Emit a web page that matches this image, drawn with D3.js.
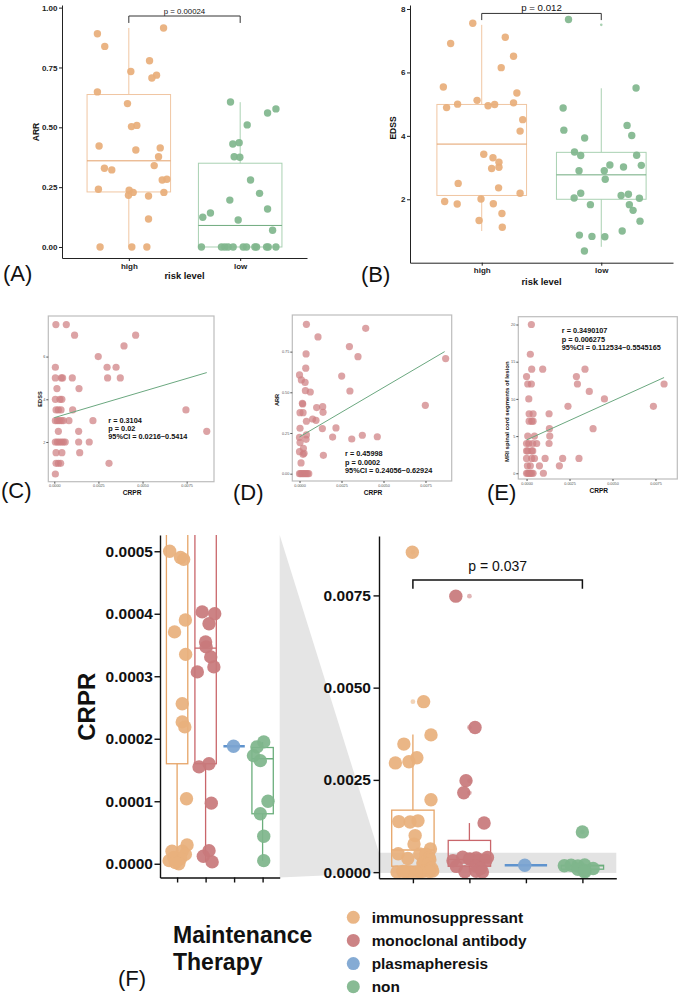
<!DOCTYPE html>
<html>
<head>
<meta charset="utf-8">
<script src="https://cdn.jsdelivr.net/npm/d3@7"></script>
<style>
  body { margin: 0; background: #fff; }
  svg { display: block; }
  text { font-family: "Liberation Sans", Arial, sans-serif; }
</style>
</head>
<body>
<svg id="fig" width="683" height="997"></svg>
<script>
// ---- data: panels A / B (value, jitter in category units) ----
const riskLevels = ["high", "low"];

const arrHigh = [[0.891,-0.282],[0.838,-0.216],[0.915,0.312],[0.778,0.186],[0.733,0.018],[0.718,0.249],[0.706,0.207],
  [0.648,-0.282],[0.599,-0.012],[0.503,0.024],[0.508,0.072],[0.422,-0.267],[0.405,0.063],[0.414,0.282],[0.377,0.267],
  [0.340,0.228],[0.329,-0.219],[0.322,-0.153],[0.280,0.300],[0.283,0.342],[0.241,-0.273],[0.237,0.003],[0.228,0.039],
  [0.216,-0.003],[0.213,0.177],[0.228,0.315],[0.117,0.177],[0,-0.258],[0,0.027],[0,0.162]];
const arrLow = [[0.606,-0.087],[0.577,0.321],[0.560,0.246],[0.510,0.063],[0.436,-0.009],[0.430,-0.066],[0.377,-0.054],
  [0.375,-0.003],[0.280,0.093],[0.224,0.174],[0.196,-0.093],[0.142,-0.267],[0.124,-0.336],[0.159,0.246],[0.113,-0.018],
  [0.070,0.291],[0,-0.348],[0,-0.168],[0,-0.138],[0,-0.108],[0,-0.063],[0,0.027],[0,0.057],[0,0.132],[0,0.147],
  [0,0.237],[0,0.252],[0,0.321]];
const arrHighBox = [0, 0.23, 0.36, 0.637, 0.915];   // lower whisker, q1, median, q3, upper whisker
const arrLowBox = [0, 0, 0.09, 0.35, 0.605];

const edssHigh = [[7.55,-0.075],[6.91,-0.26],[7.11,0.197],[6.51,0.266],[6.15,0.163],[5.54,-0.321],[5.35,0.294],
  [5.12,-0.039],[4.89,-0.294],[5.00,-0.202],[4.95,0.053],[4.99,0.108],[5.04,0.266],[4.51,0.343],[4.15,0.321],
  [3.42,0.017],[3.31,0.094],[3.17,0.144],[2.97,0.083],[3.01,0.144],[2.50,-0.197],[2.36,0.141],[2.19,0.321],
  [1.93,-0.31],[1.85,-0.205],[2.01,-0.006],[1.86,0.097],[1.55,0.169],[1.33,-0.022],[1.12,0.172]];
const edssLow = [[7.67,-0.274],[5.51,0.291],[4.88,-0.319],[4.18,-0.313],[3.93,-0.139],[4.33,0.216],[4.01,0.255],
  [3.49,-0.224],[3.38,-0.172],[3.39,0.296],[2.90,-0.186],[2.90,0.025],[3.08,0.072],[3.02,0.186],[3.07,0.335],
  [2.63,0.033],[2.19,-0.172],[2.04,-0.227],[1.83,-0.091],[2.12,0.166],[2.16,0.227],[1.83,0.235],[1.65,0.266],
  [2.03,0.319],[1.31,0.324],[1.00,0.175],[0.87,-0.183],[0.83,-0.078],[0.82,0.03],[0.37,-0.141]];
const edssHighBox = [1.0, 2.12, 3.74, 4.99, 7.5];
const edssLowBox = [0.5, 2.0, 2.77, 3.48, 5.5];
const edssLowOutliers = [7.5];

// ---- data: panels C / D / E (CRPR, outcome) ----
const crprTicks = [0, 0.0025, 0.005, 0.0075];
const edssVsCrpr = [[0.00009,7.5],[0.00068,7.5],[0.00115,7.0],[0.00461,7.0],[0.00395,6.5],[0.00249,6.0],[0.00006,5.5],
  [0.00299,5.5],[0.0035,5.5],[0.00006,5],[0.0004,5],[0.00047,5],[0.00102,5],[0.00302,5],[0.00374,5],[0.00015,4.5],
  [0.0014,4.5],[0.00006,4],[0.00032,4],[0.00043,4],[0.0001,3.5],[0.00023,3.5],[0.00038,3.5],[0.00104,3.5],
  [0.00746,3.5],[0.00006,3],[0.00017,3],[0.00028,3],[0.0004,3],[0.00051,3],[0.00083,3],[0.00219,3],[0.00023,2.5],
  [0.00138,2.5],[0.00864,2.5],[0.00006,2],[0.00017,2],[0.00028,2],[0.0004,2],[0.00051,2],[0.00062,2],[0.00138,2],
  [0.00198,2],[0.0001,1.5],[0.00043,1.5],[0.00144,1.5],[0.0001,1],[0.00023,1],[0.00036,1],[0.0031,1],[0.00006,0.5]];
const edssFit = [[0, 3.14], [0.00864, 5.25]];
const edssStats = ["r = 0.3104", "p = 0.02", "95%CI = 0.0216~0.5414"];

const arrVsCrpr = [[0.00041,0.918],[0.0011,0.840],[0.00394,0.893],[0.00297,0.781],[0.00348,0.719],[0.00039,0.736],
  [0.0087,0.707],[0.00037,0.648],[0,0.607],[0.00011,0.576],[0.00033,0.561],[0.00251,0.600],[0.00035,0.510],
  [0.00064,0.502],[0.003,0.508],[0.00017,0.432],[0.00019,0.428],[0.00003,0.375],[0.00021,0.375],[0.00102,0.406],
  [0.00138,0.412],[0.0014,0.377],[0.00078,0.336],[0.00098,0.328],[0.00041,0.322],[0.00749,0.420],[0.00003,0.279],
  [0.00136,0.277],[0.00217,0.281],[0.00197,0.225],[0.00311,0.213],[0.00374,0.236],[0.00463,0.227],[0.00041,0.238],
  [0.00039,0.211],[0,0.223],[0.00003,0.191],[0.00023,0.156],[0.00021,0.119],[0.00027,0.125],[0.00142,0.113],
  [0,0.135],[0.00009,0.066],[0,0],[0.00007,0],[0.00015,0],[0.00023,0],[0.00031,0],[0.00039,0],[0.00047,0],[0.00055,0]];
const arrFit = [[0, 0.226], [0.00864, 0.75]];
const arrStats = ["r = 0.45998", "p = 0.0002", "95%CI = 0.24056~0.62924"];

const mriVsCrpr = [[0.00028,20],[0.00022,16],[0.0003,14],[0.00094,14],[0.0034,14],[0,13],[0.0029,13],[0.00007,12],
  [0.00028,12],[0.00296,12],[0.0080,12],[0.00365,11],[0.00013,10],[0.00453,10],[0.00015,8],[0.00038,8],[0.00131,8],
  [0.00241,9],[0.00738,9],[0.00015,7],[0.0003,7],[0.00038,7],[0.00387,6],[0.00133,6],[0.00007,5],[0.00046,5],
  [0.00135,5],[0,4],[0.00013,4],[0.00036,4],[0.00059,4],[0.00131,4],[0,3],[0.00007,3],[0.0003,3],[0.00036,3],
  [0,2],[0.0003,2],[0.00046,2],[0.00108,2],[0.0021,2],[0.00305,2],[0.00005,1],[0.00022,1],[0.00075,1],[0.00191,1],
  [0,0],[0.00007,0],[0.00015,0],[0.00022,0],[0.0003,0],[0.00038,0],[0.00098,0]];
const mriFit = [[0, 4.48], [0.0080, 12.87]];
const mriStats = ["r = 0.3490107", "p = 0.006275", "95%CI = 0.112534~0.5545165"];

// ---- data: panel F (CRPR by maintenance therapy; value, jitter) ----
const therapies = ["immunosuppressant", "monoclonal antibody", "plasmapheresis", "non"];
const crprImmuno = [[0.00867,-0.01],[0.00462,0.19],[0.00372,0.32],[0.00347,-0.16],[0.00310,0.07],[0.00299,-0.07],
  [0.00296,-0.31],[0.00196,0.32],[0.00137,-0.25],[0.00136,-0.05],[0.00139,0.09],[0.00099,0.04],[0.00076,0.02],
  [0.00063,0.31],[0.00050,-0.26],[0.00049,0.12],[0.000487,0.23],[0.00039,0.29],[0.000371,-0.09],[0.000335,0.30],
  [0.000256,0.18],[0.000227,0.18],[0.000219,0.27],[0.000104,0.33],[0.00003,0.35],[0.00002,0.18],[0.000015,0.29],
  [0.00001,-0.12],[0.000008,0.12],[0.000005,-0.28],[0,0.06],[0.000002,-0.06],[0.00002,-0.18]];
const crprMono = [[0.00748,-0.24],[0.00392,0.10],[0.00248,-0.06],[0.00215,-0.10],[0.00133,0.26],[0.000403,-0.12],
  [0.0004,0.32],[0.000384,0.12],[0.000355,0.0],[0.000347,0.02],[0.000331,0.18],[0.000315,0.29],[0.000307,-0.29],
  [0.000155,-0.23],[0.00016,0.12],[0.000097,0.2],[0.000021,0.12],[0.000012,-0.08],[0.000003,0.23]];
const crprPlasma = [[0.000188,-0.02]];
const crprNon = [[0.00109,0.0],[0.000195,0.04],[0.000187,-0.2],[0.000173,-0.32],[0.000165,-0.08],[0.0001,0.19],
  [0.00008,-0.08],[0.000044,0.04],[0.000005,0.04]];
const crprBoxes = [
  [0, 0.00016, 0.0006, 0.00168, 0.00373],
  [0.000003, 0.00016, 0.000345, 0.00086, 0.00133],
  [0.000188, 0.000188, 0.000188, 0.000188, 0.000188],
  [0.000005, 0.00008, 0.000168, 0.000186, 0.000195]
];
const zoomTicks = [0, 0.0001, 0.0002, 0.0003, 0.0004, 0.0005];
const fullTicks = [0, 0.0025, 0.005, 0.0075];

const therapyColors = ["#E8B07D", "#C87A7C", "#7CA5D1", "#7FB68C"];
const therapyBoxColors = ["#E6A467", "#C9666B", "#5F93CE", "#6BAE7C"];

const svg = d3.select("#fig");
const FONT = '"Liberation Sans", Arial, sans-serif';

function styleAxis(sel, size, color, weight) {
  sel.attr("font-family", FONT).attr("font-size", size);
  sel.selectAll("text").attr("fill", color).attr("font-weight", weight || "bold");
  sel.selectAll("line").attr("stroke", color);
  sel.select(".domain").attr("stroke", color);
}

function addText(x, y, str, size, opts) {
  opts = opts || {};
  const t = svg.append("text").attr("x", x).attr("y", y).text(str)
    .attr("font-size", size)
    .attr("font-weight", opts.weight || "bold")
    .attr("text-anchor", opts.anchor || "start")
    .attr("fill", opts.fill || "#111");
  if (opts.family) t.attr("font-family", opts.family);
  if (opts.rotate) t.attr("transform", `rotate(-90,${x},${y})`).attr("dominant-baseline", "central");
  return t;
}

function drawBox(g, x, y, cx, b, hw, stroke, med, width) {
  const bg = g.append("g").attr("fill", "none").attr("stroke", stroke).attr("stroke-width", width);
  bg.append("line").attr("x1", x(cx)).attr("x2", x(cx)).attr("y1", y(b[0])).attr("y2", y(b[1]));
  bg.append("line").attr("x1", x(cx)).attr("x2", x(cx)).attr("y1", y(b[3])).attr("y2", y(b[4]));
  bg.append("rect").attr("x", x(cx - hw)).attr("width", x(cx + hw) - x(cx - hw))
    .attr("y", y(b[3])).attr("height", Math.max(0, y(b[1]) - y(b[3])));
  bg.append("line").attr("x1", x(cx - hw)).attr("x2", x(cx + hw))
    .attr("y1", y(b[2])).attr("y2", y(b[2])).attr("stroke", med);
}

// ---------- A / B ----------
function riskPanel(c) {
  const g = svg.append("g");
  const x = d3.scaleLinear().domain([0.4, 2.6]).range([c.left, c.right]);
  const y = d3.scaleLinear().domain(c.yDomain).range([c.bottom, c.top]);
  c.groups.forEach((grp, i) => {
    const cx = i + 1;
    drawBox(g, x, y, cx, grp.box, 0.375, grp.boxColor, grp.medColor, 1);
    (grp.outliers || []).forEach(v => g.append("circle").attr("cx", x(cx)).attr("cy", y(v))
      .attr("r", 1.3).attr("fill", grp.boxColor));
    g.append("g").selectAll("circle").data(grp.pts).join("circle")
      .attr("cx", d => x(cx + d[1])).attr("cy", d => y(d[0])).attr("r", 3.7)
      .attr("fill", grp.color).attr("fill-opacity", 0.92);
  });
  g.append("g").attr("transform", `translate(${c.left},0)`)
    .call(d3.axisLeft(y).tickValues(c.ticks).tickFormat(c.fmt).tickSize(3).tickSizeOuter(0).tickPadding(1.5))
    .call(s => styleAxis(s, 8, "#222"));
  g.append("g").attr("transform", `translate(0,${c.bottom})`)
    .call(d3.axisBottom(x).tickValues([1, 2]).tickFormat(d => riskLevels[d - 1]).tickSize(3).tickSizeOuter(0).tickPadding(2))
    .call(s => styleAxis(s, 8, "#222"));
  // significance bracket
  g.append("path").attr("fill", "none").attr("stroke", "#333").attr("stroke-width", 1)
    .attr("d", `M${x(1)},${y(c.bracket[1])}V${y(c.bracket[0])}H${x(2)}V${y(c.bracket[1])}`);
  addText((x(1) + x(2)) / 2, y(c.bracket[0]) - 2.5, c.pText, c.pSize, { anchor: "middle", weight: "normal", fill: "#111" });
  addText(c.yLab[0], c.yLab[1], c.yLabel, 8.5, { anchor: "middle", rotate: true });
  addText((c.left + c.right) / 2, c.xLabY, "risk level", 9.4, { anchor: "middle" });
}

riskPanel({
  left: 62, right: 307, top: 5, bottom: 258,
  yDomain: [-0.046, 1.011], ticks: [0, 0.25, 0.5, 0.75, 1], fmt: d3.format(".2f"),
  groups: [
    { pts: arrHigh, box: arrHighBox, color: "#E8AE79", boxColor: "#F0C6A2", medColor: "#E39F68" },
    { pts: arrLow, box: arrLowBox, color: "#80B68D", boxColor: "#A9D1B2", medColor: "#6FAA7E" }
  ],
  bracket: [0.965, 0.936], pText: "p = 0.00024", pSize: 7.8,
  yLab: [36, 132], yLabel: "ARR", xLabY: 279
});

riskPanel({
  left: 410, right: 673, top: 5, bottom: 262.7,
  yDomain: [0, 8.126], ticks: [2, 4, 6, 8], fmt: d3.format("d"),
  groups: [
    { pts: edssHigh, box: edssHighBox, color: "#E8AE79", boxColor: "#F0C6A2", medColor: "#E39F68" },
    { pts: edssLow, box: edssLowBox, outliers: edssLowOutliers, color: "#80B68D", boxColor: "#A9D1B2", medColor: "#6FAA7E" }
  ],
  bracket: [7.86, 7.65], pText: "p = 0.012", pSize: 9.7,
  yLab: [393, 128], yLabel: "EDSS", xLabY: 285
});

// ---------- C / D / E ----------
function scatterPanel(c) {
  const g = svg.append("g");
  const x = d3.scaleLinear().domain(c.xDomain).range([c.left, c.right]);
  const y = d3.scaleLinear().domain(c.yDomain).range([c.bottom, c.top]);
  g.append("rect").attr("x", c.left).attr("y", c.top).attr("width", c.right - c.left).attr("height", c.bottom - c.top)
    .attr("fill", "#fff").attr("stroke", "#BDBDBD").attr("stroke-width", 1.2);
  g.append("g").selectAll("circle").data(c.pts).join("circle")
    .attr("cx", d => x(d[0])).attr("cy", d => y(d[1])).attr("r", 3.6)
    .attr("fill", "#CF7F82").attr("fill-opacity", 0.72);
  g.append("path").datum(c.fit).attr("fill", "none").attr("stroke", "#6BA880").attr("stroke-width", 1)
    .attr("d", d3.line().x(d => x(d[0])).y(d => y(d[1])));
  g.append("g").attr("transform", `translate(${c.left},0)`)
    .call(d3.axisLeft(y).tickValues(c.yTicks).tickFormat(c.yFmt).tickSize(2).tickPadding(1))
    .call(s => { styleAxis(s, 3.8, "#555", "normal"); s.select(".domain").remove(); });
  g.append("g").attr("transform", `translate(0,${c.bottom})`)
    .call(d3.axisBottom(x).tickValues(crprTicks).tickFormat(d3.format(".4f")).tickSize(2).tickPadding(1))
    .call(s => { styleAxis(s, 3.8, "#555", "normal"); s.select(".domain").remove(); });
  c.stats.forEach((s, i) => addText(x(c.statsAt[0]), y(c.statsAt[1]) + i * 8.3, s, 7.3));
  addText(c.yLab[0], c.yLab[1], c.yLabel, c.yLabSize, { anchor: "middle", rotate: true });
  addText((c.left + c.right) / 2 + 1, c.bottom + 13.5, "CRPR", 6.6, { anchor: "middle" });
}

scatterPanel({
  left: 48.3, right: 214, top: 316, bottom: 481.7,
  xDomain: [-0.00034, 0.00905], yDomain: [0.14, 7.9], yTicks: [2, 4, 6], yFmt: d3.format("d"),
  pts: edssVsCrpr, fit: edssFit, stats: edssStats, statsAt: [0.00306, 2.9],
  yLab: [39.5, 399], yLabel: "EDSS", yLabSize: 5.6
});
scatterPanel({
  left: 292.3, right: 451.7, top: 315, bottom: 481,
  xDomain: [-0.00043, 0.00906], yDomain: [-0.045, 0.975], yTicks: [0, 0.25, 0.5, 0.75], yFmt: d3.format(".2f"),
  pts: arrVsCrpr, fit: arrFit, stats: arrStats, statsAt: [0.00271, 0.106],
  yLab: [277, 400], yLabel: "ARR", yLabSize: 5.6
});
scatterPanel({
  left: 518.3, right: 677.3, top: 316.7, bottom: 479,
  xDomain: [-0.00048, 0.00877], yDomain: [-0.77, 21.05], yTicks: [0, 5, 10, 15, 20], yFmt: d3.format("d"),
  pts: mriVsCrpr, fit: mriFit, stats: mriStats, statsAt: [0.00205, 18.8],
  yLab: [507.5, 411.7], yLabel: "MRI spinal cord segments of lesion", yLabSize: 6
});

// ---------- F ----------
const groupsF = [crprImmuno, crprMono, crprPlasma, crprNon];
const xL = d3.scaleLinear().domain([0.4, 4.6]).range([160, 279.7]);
const yL = d3.scaleLinear().domain([-0.000022, 0.000526]).range([877.5, 535]);
const xR = d3.scaleLinear().domain([0.4, 4.6]).range([379, 616.3]);
const yR = d3.scaleLinear().domain([-0.000167, 0.00911]).range([878.3, 536]);

// zoom connector (grey wedge) and highlighted band
svg.append("path").attr("fill", "#E5E5E5")
  .attr("d", `M${xL.range()[1]},${yL.range()[1]}L${xR.range()[0]},${yR(yL.domain()[1])}` +
             `L${xR.range()[0]},${yR(yL.domain()[0])}L${xL.range()[1]},${yL.range()[0]}Z`);
svg.append("rect").attr("x", xR.range()[0]).attr("width", xR.range()[1] - xR.range()[0])
  .attr("y", yR(yL.domain()[1])).attr("height", yR(yL.domain()[0]) - yR(yL.domain()[1]))
  .attr("fill", "#E3E3E3");

svg.append("defs").append("clipPath").attr("id", "clipL").append("rect")
  .attr("x", xL.range()[0]).attr("y", yL.range()[1])
  .attr("width", xL.range()[1] - xL.range()[0]).attr("height", yL.range()[0] - yL.range()[1]);

function therapyView(g, x, y) {
  groupsF.forEach((pts, i) => {
    const cx = i + 1, b = crprBoxes[i];
    drawBox(g, x, y, cx, b, 0.375, therapyBoxColors[i], therapyBoxColors[i], i === 2 ? 2.6 : 1.3);
    pts.filter(d => d[0] > b[4] || d[0] < b[0]).forEach(d =>
      g.append("circle").attr("cx", x(cx)).attr("cy", y(d[0])).attr("r", 2.4)
        .attr("fill", therapyColors[i]).attr("fill-opacity", 0.55));
  });
  groupsF.forEach((pts, i) => {
    g.append("g").selectAll("circle").data(pts).join("circle")
      .attr("cx", d => x(i + 1 + d[1])).attr("cy", d => y(d[0])).attr("r", 6.7)
      .attr("fill", therapyColors[i]).attr("fill-opacity", 0.93);
  });
}

const gL = svg.append("g").attr("clip-path", "url(#clipL)");
therapyView(gL, xL, yL);
const gR = svg.append("g");
therapyView(gR, xR, yR);

function therapyAxes(x, y, ticks, pad) {
  const a = svg.append("g");
  a.append("g").attr("transform", `translate(${x.range()[0]},0)`)
    .call(d3.axisLeft(y).tickValues(ticks).tickFormat(d3.format(".4f")).tickSize(5.5).tickSizeOuter(0).tickPadding(pad))
    .call(s => { styleAxis(s, 15.5, "#111"); s.selectAll("path,line").attr("stroke-width", 1.4); });
  a.append("g").attr("transform", `translate(0,${y.range()[0]})`)
    .call(d3.axisBottom(x).tickValues([1, 2, 3, 4]).tickFormat("").tickSize(5).tickSizeOuter(0))
    .call(s => { styleAxis(s, 10, "#111"); s.selectAll("path,line").attr("stroke-width", 1.4); });
}
therapyAxes(xL, yL, zoomTicks, 1.5);
therapyAxes(xR, yR, fullTicks, 2.5);

// significance bracket immunosuppressant vs non
svg.append("path").attr("fill", "none").attr("stroke", "#111").attr("stroke-width", 1.5)
  .attr("d", `M${xR(1)},${yR(0.00768)}V${yR(0.00792)}H${xR(4)}V${yR(0.00768)}`);
addText((xR(1) + xR(4)) / 2, yR(0.00792) - 8.5, "p = 0.037", 14, { anchor: "middle", weight: "normal" });

addText(86.7, 706.7, "CRPR", 24, { anchor: "middle", rotate: true });

// legend
addText(173, 943.3, "Maintenance", 23);
addText(173, 970, "Therapy", 23);
const legY = d3.scalePoint().domain(therapies).range([917.3, 986.7]);
therapies.forEach((t, i) => {
  svg.append("circle").attr("cx", 353.3).attr("cy", legY(t)).attr("r", 6.5)
    .attr("fill", therapyColors[i]).attr("fill-opacity", 0.93);
  addText(371.7, legY(t) + 5.5, t, 15.4);
});

// panel letters
const panelLetters = [["(A)", 3, 281], ["(B)", 361, 282], ["(C)", 1, 498], ["(D)", 233, 500], ["(E)", 487, 500], ["(F)", 118, 986]];
panelLetters.forEach(p => addText(p[1], p[2], p[0], 22, { weight: "normal", family: '"Noto Sans", "DejaVu Sans", sans-serif' }));
</script>
</body>
</html>
